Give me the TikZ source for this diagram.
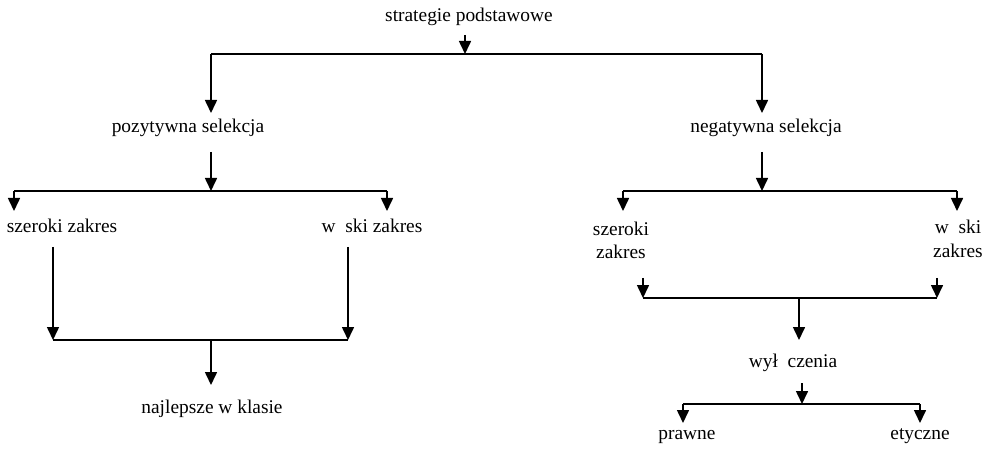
\documentclass[tikz,border=0pt]{standalone}
\usepackage{fontspec}
\setmainfont{Liberation Serif}
\usetikzlibrary{arrows.meta}
\begin{document}
\begin{tikzpicture}[x=0.5pt,y=-0.5pt,line width=0.8pt,
  lbl/.style={anchor=base,inner sep=0pt,align=center,font=\fontsize{9.7}{12}\selectfont},
  arr/.style={-{Triangle[width=6pt,length=6.5pt]}}]
\useasboundingbox (0,0) rectangle (990,454);
\node[lbl] (sp) at (469,22) {strategie podstawowe};
\node[lbl] (ps) at (188,133) {pozytywna selekcja};
\node[lbl] (ns) at (766,133) {negatywna selekcja};
\node[lbl] (sz1) at (62,233) {szeroki zakres};
\node[lbl] (wz1) at (372,233) {w\ \ ski zakres};
\node[lbl] (nk) at (212,413) {najlepsze w klasie};
\node[lbl] (sz2) at (621,259) {szeroki\\zakres};
\node[lbl] (wz2) at (958,257) {w\ \ ski\\zakres};
\node[lbl] (wc) at (793,367) {wył\ \ czenia};
\node[lbl] (pr) at (687,439) {prawne};
\node[lbl] (et) at (920,439) {etyczne};
\coordinate (sp0) at (465,35);
\coordinate (b0) at (465,54);
\coordinate (b0l) at (211,54);
\coordinate (b0r) at (762,54);
\coordinate (ps0) at (211,113);
\coordinate (ns0) at (762,113);
\coordinate (ps1) at (211,152);
\coordinate (b1) at (211,191);
\coordinate (b1l) at (14,191);
\coordinate (b1r) at (387,191);
\coordinate (sz1a) at (14,211);
\coordinate (wz1a) at (387,211);
\coordinate (sz1b) at (53,247);
\coordinate (wz1b) at (348,247);
\coordinate (b2l) at (53,340);
\coordinate (b2r) at (348,340);
\coordinate (b2) at (211,340);
\coordinate (nk0) at (211,385);
\coordinate (ns1) at (762,152);
\coordinate (b3) at (762,191);
\coordinate (b3l) at (623,191);
\coordinate (b3r) at (957,191);
\coordinate (sz2a) at (623,211);
\coordinate (wz2a) at (957,211);
\coordinate (sz2b) at (643,278);
\coordinate (wz2b) at (937,278);
\coordinate (b4l) at (643,298);
\coordinate (b4r) at (937,298);
\coordinate (b4) at (799,298);
\coordinate (wc0) at (799,340);
\coordinate (wc1) at (802,383);
\coordinate (b5) at (802,404);
\coordinate (b5l) at (683,404);
\coordinate (b5r) at (920,404);
\coordinate (pr0) at (683,423);
\coordinate (et0) at (920,423);
\draw[arr] (sp0) -- (b0);
\draw (b0l) -- (b0r);
\draw[arr] (b0l) -- (ps0);
\draw[arr] (b0r) -- (ns0);
\draw[arr] (ps1) -- (b1);
\draw (b1l) -- (b1r);
\draw[arr] (b1l) -- (sz1a);
\draw[arr] (b1r) -- (wz1a);
\draw[arr] (sz1b) -- (b2l);
\draw[arr] (wz1b) -- (b2r);
\draw (b2l) -- (b2r);
\draw[arr] (b2) -- (nk0);
\draw[arr] (ns1) -- (b3);
\draw (b3l) -- (b3r);
\draw[arr] (b3l) -- (sz2a);
\draw[arr] (b3r) -- (wz2a);
\draw[arr] (sz2b) -- (b4l);
\draw[arr] (wz2b) -- (b4r);
\draw (b4l) -- (b4r);
\draw[arr] (b4) -- (wc0);
\draw[arr] (wc1) -- (b5);
\draw (b5l) -- (b5r);
\draw[arr] (b5l) -- (pr0);
\draw[arr] (b5r) -- (et0);
\end{tikzpicture}
\end{document}
